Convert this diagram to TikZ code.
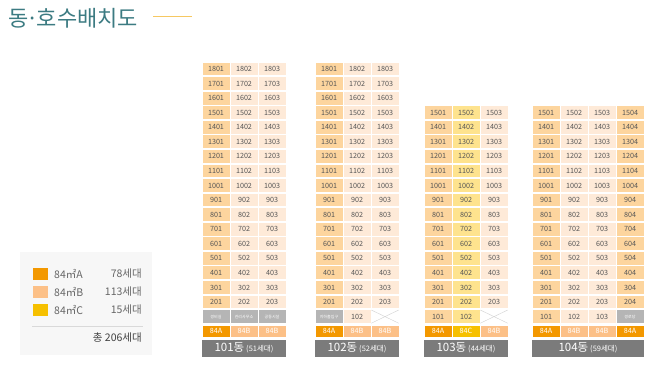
\documentclass[tikz,border=0pt]{standalone}
\usepackage{fontspec}
\setmainfont{Noto Sans CJK KR}
\definecolor{unitA}{HTML}{FDD59E}
\definecolor{unitB}{HTML}{FEEAD8}
\definecolor{unitC}{HTML}{FEE38E}
\definecolor{typeA}{HTML}{F39800}
\definecolor{typeB}{HTML}{FCC087}
\definecolor{typeC}{HTML}{F6C000}
\definecolor{facil}{HTML}{B5B5B5}
\definecolor{namebar}{HTML}{7B7B7B}
\definecolor{titleteal}{HTML}{3C7B82}
\definecolor{titleline}{HTML}{F6C862}
\definecolor{celltext}{HTML}{555555}
\definecolor{legendbg}{HTML}{F7F7F7}

% one column of a building: #1 building, #2 x, #3 line no., #4 top floor, #5 colour
\newcommand{\unitcolumn}[5]{%
  \foreach \fl in {2,...,#4}{
    \node[cell,fill=#5] (d#1-\fl0#3) at (#2,{302-(\fl-2)*14.56}) {\fl0#3};
  }
}

\begin{document}
\begin{tikzpicture}[x=1pt,y=-1pt,
    cell/.style={minimum width=27pt,minimum height=12.8pt,inner sep=0pt,
      font=\fontsize{7.2}{8}\selectfont,text=celltext},
    facility/.style={cell,fill=facil,text=white,font=\fontsize{4}{4}\selectfont},
    typecell/.style={cell,minimum height=11pt,text=white},
    crossed/.style={cell,fill=white},
    namebox/.style={minimum width=#1,minimum height=17pt,inner sep=0pt,fill=namebar,text=white},
    swatch/.style={minimum width=15pt,minimum height=12pt,inner sep=0pt},
    legendtext/.style={inner sep=0pt,text=black!60,font=\fontsize{10.5}{11}\selectfont}]
  \useasboundingbox (0,0) rectangle (650,365);

  % title
  \node[anchor=west,inner sep=0pt,text=titleteal,font=\fontsize{22}{23}\selectfont] (title) at (8,18) {동\kern-2pt·\kern-2pt호수배치도};
  \coordinate (tlineA) at (153,16);
  \coordinate (tlineB) at (192,16);
  \draw[titleline,line width=0.9pt] (tlineA) -- (tlineB);

  % legend
  \fill[legendbg] (20,252) rectangle (152,355);
  \node[swatch,fill=typeA] (swA) at (40,274) {};
  \node[swatch,fill=typeB] (swB) at (40,292) {};
  \node[swatch,fill=typeC] (swC) at (40,310) {};
  \node[legendtext,anchor=west] (lgA) at (54,274) {84㎡A};
  \node[legendtext,anchor=west] (lgB) at (54,292) {84㎡B};
  \node[legendtext,anchor=west] (lgC) at (54,310) {84㎡C};
  \node[legendtext,anchor=east] (nA) at (142,274) {78세대};
  \node[legendtext,anchor=east] (nB) at (142,292) {113세대};
  \node[legendtext,anchor=east] (nC) at (142,310) {15세대};
  \coordinate (sepA) at (32,326.5);
  \coordinate (sepB) at (143,326.5);
  \draw[black!15,line width=0.8pt] (sepA) -- (sepB);
  \node[legendtext,anchor=east,text=black!75] (total) at (142,338) {총 206세대};

  % 101
  \unitcolumn{101}{216}{1}{18}{unitA}
  \unitcolumn{101}{244}{2}{18}{unitB}
  \unitcolumn{101}{272}{3}{18}{unitB}
  \node[facility] (d101-g1) at (216,316.6) {경비실};
  \node[facility] (d101-g2) at (244,316.6) {관리사무소};
  \node[facility] (d101-g3) at (272,316.6) {공동시설};
  \node[typecell,fill=typeA] (d101-t1) at (216,331) {84A};
  \node[typecell,fill=typeB] (d101-t2) at (244,331) {84B};
  \node[typecell,fill=typeB] (d101-t3) at (272,331) {84B};
  \node[namebox=84pt] (d101) at (244,348) {\fontsize{11.5}{12}\selectfont 101동\,{\fontsize{7.5}{8}\selectfont(51세대)}};

  % 102
  \unitcolumn{102}{329}{1}{18}{unitA}
  \unitcolumn{102}{357}{2}{18}{unitB}
  \unitcolumn{102}{385}{3}{18}{unitB}
  \node[facility] (d102-g1) at (329,316.6) {지하출입구};
  \node[cell,fill=unitB] (d102-102) at (357,316.6) {102};
  \node[crossed] (d102-g3) at (385,316.6) {};
  \draw[black!18,line width=0.4pt] (d102-g3.north west) -- (d102-g3.south east)
    (d102-g3.south west) -- (d102-g3.north east);
  \node[typecell,fill=typeA] (d102-t1) at (329,331) {84A};
  \node[typecell,fill=typeB] (d102-t2) at (357,331) {84B};
  \node[typecell,fill=typeB] (d102-t3) at (385,331) {84B};
  \node[namebox=84pt] (d102) at (357,348) {\fontsize{11.5}{12}\selectfont 102동\,{\fontsize{7.5}{8}\selectfont(52세대)}};

  % 103
  \unitcolumn{103}{438}{1}{15}{unitA}
  \unitcolumn{103}{466}{2}{15}{unitC}
  \unitcolumn{103}{494}{3}{15}{unitB}
  \node[cell,fill=unitA] (d103-101) at (438,316.6) {101};
  \node[cell,fill=unitC] (d103-102) at (466,316.6) {102};
  \node[crossed] (d103-g3) at (494,316.6) {};
  \draw[black!18,line width=0.4pt] (d103-g3.north west) -- (d103-g3.south east)
    (d103-g3.south west) -- (d103-g3.north east);
  \node[typecell,fill=typeA] (d103-t1) at (438,331) {84A};
  \node[typecell,fill=typeC] (d103-t2) at (466,331) {84C};
  \node[typecell,fill=typeB] (d103-t3) at (494,331) {84B};
  \node[namebox=84pt] (d103) at (466,348) {\fontsize{11.5}{12}\selectfont 103동\,{\fontsize{7.5}{8}\selectfont(44세대)}};

  % 104
  \unitcolumn{104}{546}{1}{15}{unitA}
  \unitcolumn{104}{574}{2}{15}{unitB}
  \unitcolumn{104}{602}{3}{15}{unitB}
  \unitcolumn{104}{630}{4}{15}{unitA}
  \node[cell,fill=unitA] (d104-101) at (546,316.6) {101};
  \node[cell,fill=unitB] (d104-102) at (574,316.6) {102};
  \node[cell,fill=unitB] (d104-103) at (602,316.6) {103};
  \node[facility] (d104-g4) at (630,316.6) {경로당};
  \node[typecell,fill=typeA] (d104-t1) at (546,331) {84A};
  \node[typecell,fill=typeB] (d104-t2) at (574,331) {84B};
  \node[typecell,fill=typeB] (d104-t3) at (602,331) {84B};
  \node[typecell,fill=typeA] (d104-t4) at (630,331) {84A};
  \node[namebox=112pt] (d104) at (588,348) {\fontsize{11.5}{12}\selectfont 104동\,{\fontsize{7.5}{8}\selectfont(59세대)}};
\end{tikzpicture}
\end{document}
